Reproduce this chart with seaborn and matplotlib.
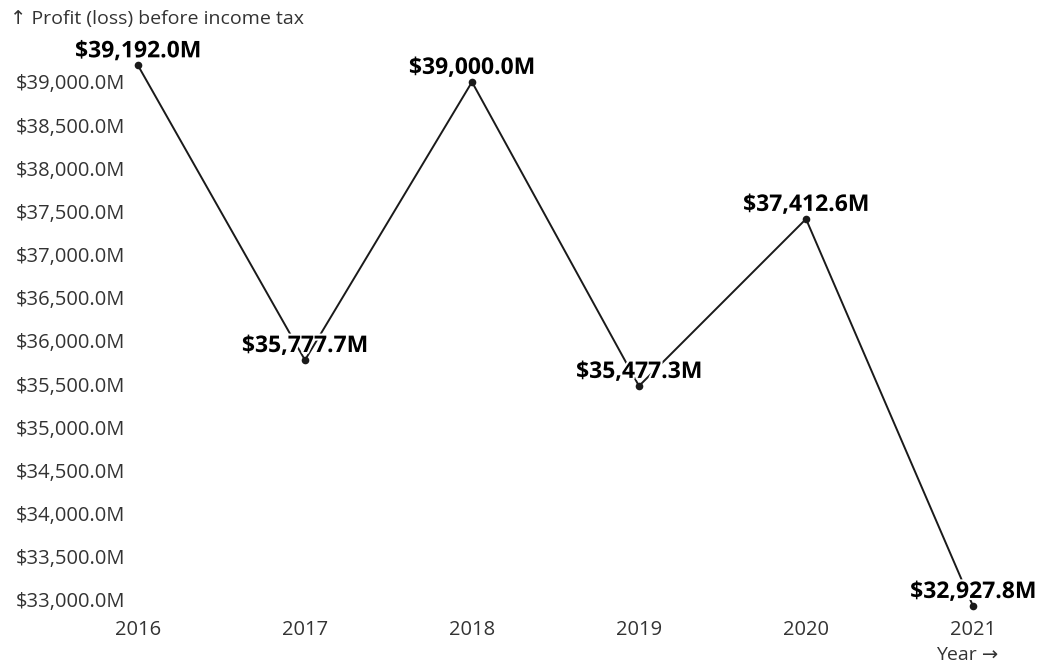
import matplotlib
matplotlib.use("Agg")
import matplotlib.pyplot as plt
import matplotlib.patheffects as pe
import seaborn as sns
import pandas as pd

years = [2016, 2017, 2018, 2019, 2020, 2021]
profit_musd = [39192.0, 35777.7, 39000.0, 35477.3, 37412.6, 32927.8]
y_ticks = [33000 + 500 * i for i in range(13)]

df = pd.DataFrame({"Year": years, "Profit": profit_musd})

sns.set_theme(style="white")
plt.rcParams["font.family"] = ["Open Sans", "DejaVu Sans"]

fig = plt.figure(figsize=(10.42, 6.64), dpi=100)
ax = fig.add_axes([0.1324, 0.0873, 0.9338 - 0.1324, 0.9015 - 0.0873])

sns.lineplot(data=df, x="Year", y="Profit", ax=ax, color="#1a1a1a",
             linewidth=1.4, marker="o", markersize=5.5, markeredgewidth=0,
             clip_on=False)

ax.set_xlim(min(years), max(years))
ax.set_ylim(min(profit_musd), max(profit_musd))
ax.set_xticks(years)
ax.set_xticklabels([str(y) for y in years])
ax.set_yticks(y_ticks)
ax.set_yticklabels([f"${v:,.1f}M" for v in y_ticks])
ax.tick_params(axis="both", length=0, labelsize=14.5, colors="#333333")
ax.tick_params(axis="y", pad=9)
ax.tick_params(axis="x", pad=10)
for s in ax.spines.values():
    s.set_visible(False)
ax.set_xlabel("")
ax.set_ylabel("")

for x, v in zip(years, profit_musd):
    ax.annotate(f"${v:,.1f}M", (x, v), xytext=(0, 1.5), textcoords="offset points",
                ha="center", va="bottom", fontsize=16.5, fontweight="bold",
                color="black",
                path_effects=[pe.withStroke(linewidth=3, foreground="white")])

fig.text(10 / 1042, 1 - 19 / 664, "↑ Profit (loss) before income tax",
         ha="left", va="center", fontsize=14, color="#333333")
fig.text(998 / 1042, 1 - 655 / 664, "Year →",
         ha="right", va="center", fontsize=14, color="#333333")

fig.savefig("out.png", dpi=100)
